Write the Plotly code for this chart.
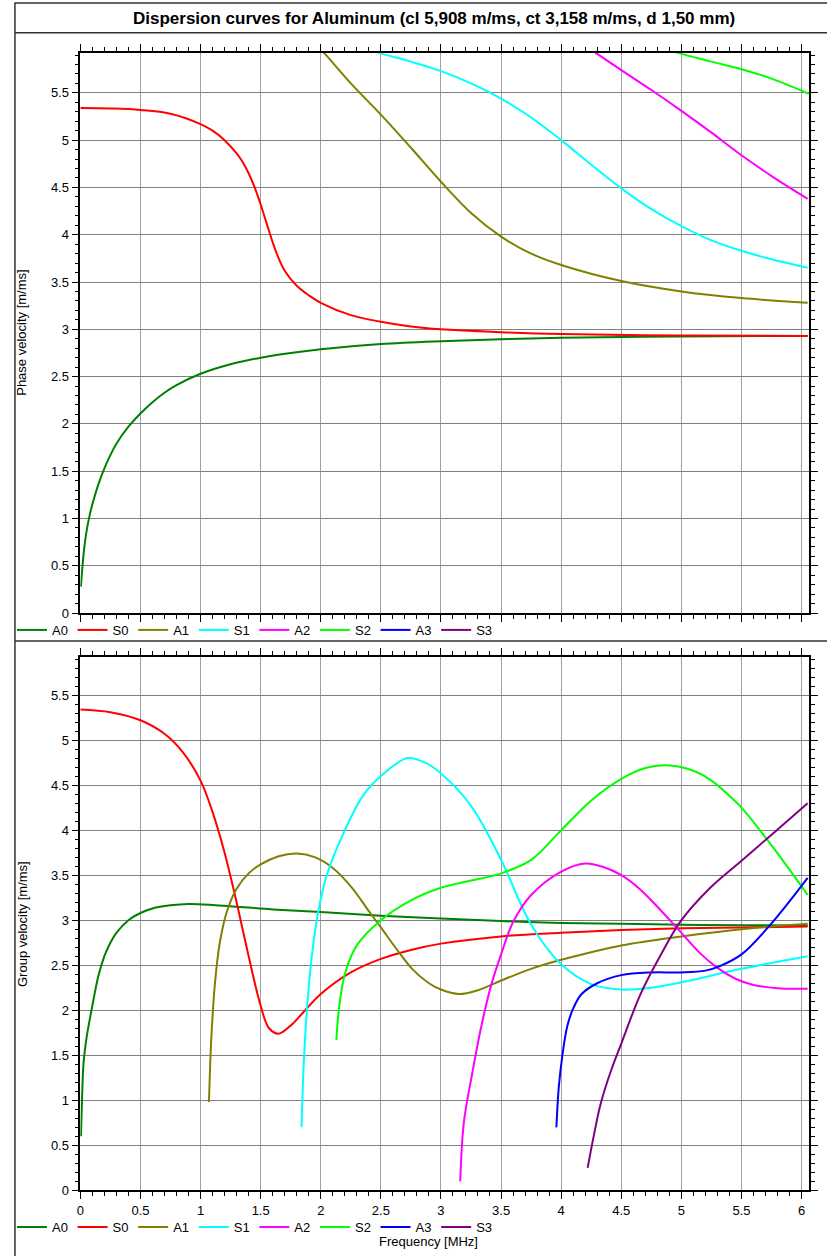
import plotly.graph_objects as go

W, H = 827, 1256
FONT = "Liberation Sans, Arial, sans-serif"

mode_names = ["A0", "S0", "A1", "S1", "A2", "S2", "A3", "S3"]
mode_colors = ["#008000", "#ff0000", "#808000", "#00ffff", "#ff00ff", "#00ff00", "#0000ff", "#800080"]

# ---------- Phase velocity (top panel) ----------
ph_A0_f = [0.005, 0.015, 0.03, 0.05, 0.075, 0.1, 0.15, 0.2, 0.25, 0.3, 0.4, 0.5, 0.6, 0.7, 0.8, 1.0, 1.25, 1.5, 1.75, 2.0, 2.5, 3.0, 3.5, 4.0, 5.0, 6.05]
ph_A0_v = [0.28, 0.45, 0.66, 0.85, 1.02, 1.15, 1.36, 1.53, 1.67, 1.79, 1.97, 2.11, 2.23, 2.33, 2.41, 2.53, 2.63, 2.7, 2.75, 2.79, 2.845, 2.875, 2.895, 2.91, 2.925, 2.93]

ph_S0_f = [0.0, 0.25, 0.5, 0.75, 1.0, 1.1, 1.2, 1.3, 1.35, 1.4, 1.45, 1.5, 1.55, 1.6, 1.65, 1.7, 1.8, 1.9, 2.0, 2.25, 2.5, 2.75, 3.0, 3.5, 4.0, 5.0, 6.05]
ph_S0_v = [5.34, 5.335, 5.32, 5.28, 5.17, 5.1, 5.0, 4.86, 4.77, 4.65, 4.5, 4.32, 4.12, 3.92, 3.75, 3.62, 3.46, 3.36, 3.28, 3.15, 3.08, 3.03, 3.0, 2.97, 2.95, 2.935, 2.93]

ph_A1_f = [1.95, 2.03, 2.25, 2.5, 2.75, 3.0, 3.25, 3.5, 3.75, 4.0, 4.5, 5.0, 5.5, 6.05]
ph_A1_v = [6.03, 5.92, 5.6, 5.27, 4.92, 4.56, 4.23, 3.98, 3.8, 3.68, 3.51, 3.4, 3.33, 3.28]

ph_S1_f = [2.4, 2.49, 2.75, 3.0, 3.25, 3.5, 3.75, 4.0, 4.25, 4.5, 4.75, 5.0, 5.25, 5.5, 5.75, 6.05]
ph_S1_v = [5.96, 5.92, 5.83, 5.73, 5.6, 5.44, 5.24, 5.0, 4.74, 4.49, 4.27, 4.09, 3.94, 3.83, 3.74, 3.65]

ph_A2_f = [4.2, 4.29, 4.5, 4.75, 5.0, 5.25, 5.5, 5.75, 6.05]
ph_A2_v = [6.0, 5.92, 5.74, 5.53, 5.31, 5.08, 4.84, 4.62, 4.38]

ph_S2_f = [4.9, 4.98, 5.25, 5.5, 5.75, 6.06]
ph_S2_v = [5.96, 5.92, 5.83, 5.75, 5.65, 5.49]

# ---------- Group velocity (bottom panel) ----------
gr_A0_f = [0.005, 0.015, 0.027, 0.05, 0.1, 0.15, 0.2, 0.25, 0.3, 0.4, 0.5, 0.6, 0.75, 0.9, 1.1, 1.3, 1.6, 2.0, 2.5, 3.0, 3.5, 4.0, 4.5, 5.0, 5.5, 6.05]
gr_A0_v = [0.6, 1.05, 1.42, 1.68, 2.05, 2.38, 2.6, 2.75, 2.86, 3.0, 3.08, 3.13, 3.165, 3.18, 3.17, 3.15, 3.12, 3.09, 3.05, 3.02, 2.99, 2.97, 2.96, 2.95, 2.945, 2.94]

gr_S0_f = [0.0, 0.25, 0.5, 0.7, 0.85, 1.0, 1.1, 1.2, 1.3, 1.4, 1.5, 1.57, 1.65, 1.75, 1.85, 2.0, 2.25, 2.5, 2.75, 3.0, 3.5, 4.0, 4.5, 5.0, 5.5, 6.05]
gr_S0_v = [5.34, 5.31, 5.22, 5.07, 4.87, 4.55, 4.2, 3.75, 3.2, 2.6, 2.05, 1.8, 1.74, 1.83, 1.97, 2.18, 2.42, 2.57, 2.67, 2.74, 2.82, 2.86, 2.89, 2.91, 2.92, 2.93]

gr_A1_f = [1.07, 1.09, 1.12, 1.16, 1.22, 1.3, 1.4, 1.5, 1.65, 1.8, 1.95, 2.1, 2.26, 2.4, 2.5, 2.63, 2.76, 2.9, 3.0, 3.15, 3.3, 3.5, 3.75, 4.0, 4.5, 5.0, 5.5, 6.05]
gr_A1_v = [0.98, 1.7, 2.3, 2.75, 3.1, 3.35, 3.52, 3.62, 3.71, 3.74, 3.7, 3.58, 3.36, 3.1, 2.92, 2.68, 2.46, 2.3, 2.23, 2.18, 2.22, 2.33, 2.46, 2.56, 2.72, 2.82, 2.9, 2.96]

gr_S1_f = [1.84, 1.86, 1.89, 1.93, 1.98, 2.05, 2.18, 2.35, 2.5, 2.72, 2.85, 3.0, 3.25, 3.5, 3.75, 4.0, 4.25, 4.5, 4.75, 5.0, 5.5, 6.05]
gr_S1_v = [0.7, 1.45, 2.1, 2.65, 3.1, 3.5, 3.94, 4.38, 4.6, 4.8, 4.76, 4.63, 4.27, 3.67, 2.95, 2.51, 2.29, 2.23, 2.25, 2.31, 2.46, 2.6]

gr_A2_f = [3.16, 3.19, 3.26, 3.34, 3.42, 3.5, 3.6, 3.75, 4.0, 4.2, 4.35, 4.5, 4.65, 4.8, 5.0, 5.15, 5.3, 5.45, 5.6, 5.8, 6.05]
gr_A2_v = [0.1, 0.75, 1.3, 1.85, 2.29, 2.62, 2.98, 3.28, 3.54, 3.63, 3.59, 3.5, 3.35, 3.15, 2.86, 2.64, 2.47, 2.35, 2.28, 2.245, 2.24]

gr_S2_f = [2.13, 2.15, 2.2, 2.3, 2.5, 2.75, 3.0, 3.25, 3.5, 3.75, 4.0, 4.25, 4.5, 4.7, 4.87, 5.1, 5.25, 5.4, 5.5, 5.75, 6.05]
gr_S2_v = [1.67, 2.0, 2.4, 2.72, 3.0, 3.22, 3.36, 3.44, 3.52, 3.67, 4.0, 4.33, 4.57, 4.69, 4.72, 4.66, 4.55, 4.38, 4.25, 3.83, 3.28]

gr_A3_f = [3.96, 3.98, 4.01, 4.05, 4.1, 4.17, 4.3, 4.5, 4.75, 5.0, 5.2, 5.32, 5.5, 5.74, 6.05]
gr_A3_v = [0.7, 1.15, 1.5, 1.82, 2.02, 2.18, 2.3, 2.39, 2.42, 2.42, 2.44, 2.49, 2.62, 2.95, 3.47]

gr_S3_f = [4.22, 4.27, 4.33, 4.42, 4.5, 4.66, 4.83, 5.0, 5.24, 5.5, 5.75, 6.05]
gr_S3_v = [0.25, 0.6, 0.97, 1.35, 1.63, 2.18, 2.62, 3.0, 3.36, 3.66, 3.95, 4.3]

phase = {"A0": (ph_A0_f, ph_A0_v), "S0": (ph_S0_f, ph_S0_v), "A1": (ph_A1_f, ph_A1_v),
         "S1": (ph_S1_f, ph_S1_v), "A2": (ph_A2_f, ph_A2_v), "S2": (ph_S2_f, ph_S2_v)}
group = {"A0": (gr_A0_f, gr_A0_v), "S0": (gr_S0_f, gr_S0_v), "A1": (gr_A1_f, gr_A1_v),
         "S1": (gr_S1_f, gr_S1_v), "A2": (gr_A2_f, gr_A2_v), "S2": (gr_S2_f, gr_S2_v),
         "A3": (gr_A3_f, gr_A3_v), "S3": (gr_S3_f, gr_S3_v)}

SMOOTH = 1.0
fig = go.Figure()
for name, col in zip(mode_names, mode_colors):
    if name in phase:
        f, v = phase[name]
    else:
        f, v = [None], [None]
    fig.add_trace(go.Scatter(x=f, y=v, mode="lines", name=name, legend="legend",
                             line=dict(color=col, width=2, shape="spline", smoothing=SMOOTH),
                             xaxis="x", yaxis="y"))
for name, col in zip(mode_names, mode_colors):
    f, v = group[name]
    fig.add_trace(go.Scatter(x=f, y=v, mode="lines", name=name, legend="legend2",
                             line=dict(color=col, width=2, shape="spline", smoothing=SMOOTH),
                             xaxis="x2", yaxis="y2"))

def px_x(p):
    return p / W

def px_y(p):
    return 1 - p / H

XD = [px_x(76.7), px_x(809)]
YD_TOP = [px_y(617), px_y(53)]
YD_BOT = [px_y(1198), px_y(661)]
XR = [0, 6.062]
YR = [0, 5.925]

axis_common = dict(
    showline=True, linecolor="black", linewidth=1.5, mirror="ticks",
    ticks="outside", ticklen=7, tickwidth=1, tickcolor="black",
    tick0=0, dtick=0.5, showgrid=True, gridwidth=1,
    zeroline=False, fixedrange=True,
    minor=dict(dtick=0.1, tick0=0, ticks="outside", ticklen=4, tickcolor="black", tickwidth=1, showgrid=False),
    tickfont=dict(family=FONT, size=13, color="black"),
)
XGRID = "#a0a0a0"
YGRID = "#808080"

legend_common = dict(orientation="h", xanchor="left", yanchor="middle",
                     font=dict(family=FONT, size=13, color="black"), bgcolor="rgba(0,0,0,0)",
                     entrywidth=15.6, entrywidthmode="pixels", itemwidth=30, tracegroupgap=0)

fig.update_layout(
    width=W, height=H, margin=dict(l=0, r=0, t=0, b=0),
    paper_bgcolor="white", plot_bgcolor="white",
    font=dict(family=FONT, color="black"),
    xaxis=dict(domain=XD, anchor="y", range=XR, showticklabels=False, gridcolor=XGRID, **axis_common),
    yaxis=dict(domain=YD_TOP, anchor="x", range=YR, gridcolor=YGRID, **axis_common),
    xaxis2=dict(domain=XD, anchor="y2", range=XR, gridcolor=XGRID, **axis_common),
    yaxis2=dict(domain=YD_BOT, anchor="x2", range=YR, gridcolor=YGRID, **axis_common),
    legend=dict(x=px_x(8), y=px_y(634), **legend_common),
    legend2=dict(x=px_x(8), y=px_y(1235), **legend_common),
    showlegend=True,
)

shapes = [
    dict(type="rect", xref="paper", yref="paper", x0=px_x(11), x1=1.01, y0=-0.01, y1=px_y(3),
         line=dict(color="#333333", width=1.5), fillcolor="rgba(0,0,0,0)", layer="above"),
    dict(type="line", xref="paper", yref="paper", x0=px_x(11), x1=1.01, y0=px_y(33), y1=px_y(33),
         line=dict(color="#333333", width=1.5)),
    dict(type="line", xref="paper", yref="paper", x0=px_x(11), x1=1.01, y0=px_y(645), y1=px_y(645),
         line=dict(color="#333333", width=1.5)),
]
fig.update_layout(shapes=shapes)

annotations = [
    dict(text="<b>Dispersion curves for Aluminum (cl 5,908 m/ms, ct 3,158 m/ms, d 1,50 mm)</b>",
         xref="paper", yref="paper", x=px_x(432), y=px_y(19), showarrow=False,
         xanchor="center", yanchor="middle", font=dict(family=FONT, size=17, color="black")),
    dict(text="Phase velocity [m/ms]", xref="paper", yref="paper", x=px_x(18), y=px_y(335),
         textangle=-90, showarrow=False, xanchor="center", yanchor="middle",
         font=dict(family=FONT, size=13, color="black")),
    dict(text="Group velocity [m/ms]", xref="paper", yref="paper", x=px_x(18), y=px_y(930),
         textangle=-90, showarrow=False, xanchor="center", yanchor="middle",
         font=dict(family=FONT, size=13, color="black")),
    dict(text="Frequency [MHz]", xref="paper", yref="paper", x=px_x(427), y=px_y(1249),
         showarrow=False, xanchor="center", yanchor="middle",
         font=dict(family=FONT, size=13, color="black")),
]
fig.update_layout(annotations=annotations)

fig.write_html("out.html")
